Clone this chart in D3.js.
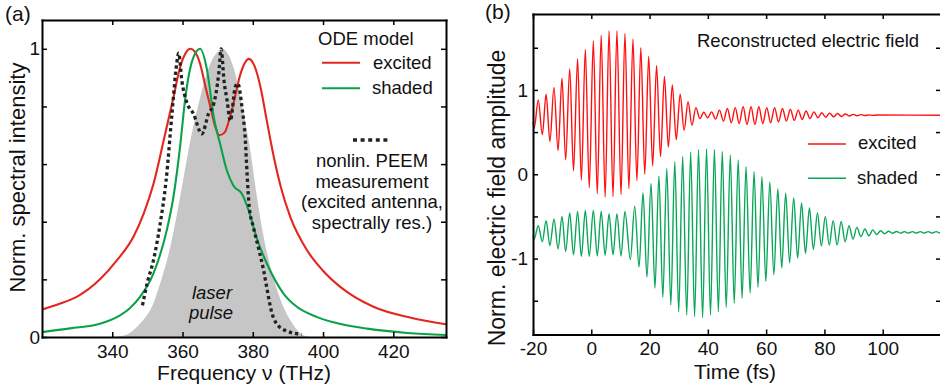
<!DOCTYPE html>
<html>
<head>
<meta charset="utf-8">
<script src="https://cdn.jsdelivr.net/npm/d3@7"></script>
<style>
  body { margin: 0; background: #fff; }
  svg { display: block; font-family: "Liberation Sans", Arial, Helvetica, sans-serif; }
  .axis path, .axis line { stroke: #000; }
  .axis path { stroke-width: 2; stroke-linecap: square; }
  .axis line { stroke-width: 1.5; }
  .axis text { font-family: "Liberation Sans", Arial, Helvetica, sans-serif; font-size: 19px; fill: #111; }
  .lbl { fill: #111; }
</style>
</head>
<body>
<svg width="940" height="392"></svg>
<script>
// ---- panel (a): spectra, [frequency THz, normalised intensity]
const freqTicks = [340, 360, 380, 400, 420];
const specTicks = [0, 0.2, 0.4, 0.6, 0.8, 1];

const odeExcited = [
  [320, 0.095], [325, 0.115], [330, 0.14], [336.5, 0.2], [341.3, 0.266], [346, 0.347],
  [349, 0.43], [351.7, 0.53], [354.6, 0.68], [357.4, 0.83], [359.3, 0.936], [360.8, 0.983],
  [362.2, 1.0], [363.5, 0.99], [365, 0.948], [366.5, 0.87], [367.9, 0.8], [369.3, 0.73],
  [370.5, 0.7], [372, 0.71], [373.2, 0.75], [374.5, 0.81], [376.5, 0.913], [378.9, 0.965],
  [380.5, 0.94], [382.2, 0.867], [384, 0.75], [386, 0.624], [388, 0.52], [390.7, 0.416],
  [395.5, 0.3], [400, 0.23], [405, 0.173], [414.5, 0.104], [425, 0.067], [435, 0.044]
];

const odeShaded = [
  [320, 0.017], [328, 0.03], [336.5, 0.046], [342.2, 0.075], [345, 0.1], [347.9, 0.139],
  [351.7, 0.22], [355.5, 0.37], [357.4, 0.485], [359.3, 0.66], [360.8, 0.83], [362.8, 0.96],
  [365, 1.0], [367, 0.925], [368.9, 0.763], [370.8, 0.665], [372.7, 0.575], [374.5, 0.525],
  [376.9, 0.497], [378.8, 0.44], [381.2, 0.34], [384, 0.255], [388.8, 0.15], [392, 0.11],
  [398.3, 0.069], [405, 0.045], [412.6, 0.029], [424, 0.014], [435, 0.007]
];

const peemMeasured = [
  [348.6, 0.11], [350, 0.19], [351.7, 0.265], [353.6, 0.39], [355.3, 0.54], [357, 0.775],
  [358.3, 0.945], [358.9, 0.985], [359.8, 0.89], [361.2, 0.815], [363.1, 0.775], [365.5, 0.705],
  [367.4, 0.775], [368.9, 0.81], [370.3, 0.913], [371, 1.0], [371.8, 0.89], [372.7, 0.82],
  [373.6, 0.75], [375, 0.867], [375.7, 0.88], [376.9, 0.8], [377.9, 0.68], [378.4, 0.56],
  [379, 0.45], [380.2, 0.38], [381.6, 0.31], [383.1, 0.23], [384, 0.17], [385.4, 0.085],
  [386.8, 0.046], [389.6, 0.021], [393.9, 0.009]
];

const laserPulse = [
  [340.5, 0], [344, 0.008], [347, 0.035], [349.8, 0.075], [350.8, 0.093], [353.6, 0.185],
  [356.5, 0.312], [359.3, 0.485], [362.2, 0.68], [365, 0.83], [367.9, 0.948], [370, 0.99],
  [371.3, 1.0], [372.8, 0.985], [374.5, 0.936], [377.4, 0.775], [379.3, 0.647], [381.2, 0.485],
  [383.1, 0.347], [386, 0.2], [388.5, 0.11], [390.7, 0.058], [393.6, 0.012], [396, 0]
];

// ---- panel (b): reconstructed field, extrema [time fs, amplitude]
const timeTicks = [-20, 0, 20, 40, 60, 80, 100];
const fieldTicks = [-1.5, -1, -0.5, 0, 0.5, 1, 1.5];

const fieldExcited = [
  [-20, 0.62], [-19.6, 0.545], [-18.2, 0.88], [-16.8, 0.47], [-15.5, 0.95], [-14.2, 0.39],
  [-12.8, 1.03], [-11.4, 0.28], [-10.05, 1.14], [-8.8, 0.17], [-7.4, 1.25], [-6.1, 0.04],
  [-4.7, 1.37], [-3.4, -0.07], [-2.05, 1.48], [-0.7, -0.16], [0.7, 1.58], [2.05, -0.23],
  [3.4, 1.65], [4.75, -0.27], [6.1, 1.7], [7.45, -0.265], [8.8, 1.7], [10.2, -0.24],
  [11.55, 1.67], [12.9, -0.17], [14.3, 1.6], [15.65, -0.075], [17, 1.5], [18.35, 0.0],
  [19.7, 1.4], [21.05, 0.1], [22.4, 1.29], [23.75, 0.21], [25.1, 1.16], [26.45, 0.32],
  [27.8, 1.06], [29.15, 0.41], [30.5, 0.95], [31.85, 0.52], [33.2, 0.86], [34.55, 0.58],
  [35.9, 0.79], [37.25, 0.66], [38.6, 0.735], [39.95, 0.67], [41.3, 0.74], [42.65, 0.655],
  [44, 0.76], [45.35, 0.63], [46.7, 0.78], [48.05, 0.61], [49.4, 0.79], [50.75, 0.6],
  [52.1, 0.8], [53.45, 0.59], [54.8, 0.8], [56.15, 0.59], [57.5, 0.8], [58.85, 0.6],
  [60.2, 0.79], [61.55, 0.61], [62.9, 0.79], [64.25, 0.62], [65.6, 0.78], [66.95, 0.63],
  [68.3, 0.77], [69.65, 0.64], [71, 0.76], [72.35, 0.65], [73.7, 0.75], [75.05, 0.66],
  [76.4, 0.74], [77.75, 0.67], [79.1, 0.73], [80.45, 0.675], [81.8, 0.725], [83.15, 0.68],
  [84.5, 0.72], [85.85, 0.685], [87.2, 0.715], [88.55, 0.69], [89.9, 0.71], [91.25, 0.693],
  [92.6, 0.707], [93.95, 0.696], [95.3, 0.704], [96.65, 0.698], [98, 0.702], [120, 0.7]
];

const fieldShaded = [
  [-20, -0.73], [-19.6, -0.77], [-18.2, -0.61], [-16.8, -0.8], [-15.5, -0.55], [-14.2, -0.845],
  [-12.8, -0.53], [-11.4, -0.885], [-10.05, -0.5], [-8.8, -0.915], [-7.4, -0.46], [-6.1, -0.955],
  [-4.7, -0.44], [-3.4, -0.975], [-2.05, -0.43], [-0.7, -0.975], [0.7, -0.43], [2.05, -0.97],
  [3.4, -0.44], [4.75, -0.96], [6.1, -0.47], [7.45, -0.955], [8.8, -0.47], [10.2, -0.97],
  [11.55, -0.44], [13.4, -1.01], [14.9, -0.38], [16.4, -1.1], [17.75, -0.22], [19.1, -1.22],
  [20.5, -0.11], [21.85, -1.35], [23.2, -0.02], [24.55, -1.46], [25.9, 0.07], [27.3, -1.55],
  [28.65, 0.15], [30, -1.63], [31.35, 0.21], [32.75, -1.67], [34.1, 0.26], [35.45, -1.69],
  [36.8, 0.29], [38.2, -1.7], [39.55, 0.3], [40.9, -1.67], [42.25, 0.29], [43.6, -1.63],
  [44.95, 0.27], [46.3, -1.58], [47.7, 0.23], [49.05, -1.53], [50.4, 0.17], [51.75, -1.47],
  [53.1, 0.09], [54.5, -1.41], [55.85, 0.03], [57.2, -1.34], [58.55, -0.03], [59.9, -1.27],
  [61.25, -0.09], [62.65, -1.19], [64, -0.17], [65.35, -1.11], [66.7, -0.225], [68.05, -1.05],
  [69.45, -0.28], [70.8, -0.995], [72.15, -0.34], [73.5, -0.94], [74.85, -0.4], [76.2, -0.89],
  [77.6, -0.46], [78.95, -0.85], [80.3, -0.5], [81.65, -0.84], [83, -0.55], [84.35, -0.84],
  [85.75, -0.56], [87.1, -0.8], [88.45, -0.61], [89.8, -0.77], [91.15, -0.63], [92.5, -0.74],
  [93.9, -0.65], [95.25, -0.73], [96.6, -0.66], [97.95, -0.715], [99.3, -0.67], [100.65, -0.705],
  [102.05, -0.675], [103.4, -0.7], [104.75, -0.678], [106.1, -0.698], [107.45, -0.68], [108.8, -0.697],
  [110.2, -0.68], [111.55, -0.697], [112.9, -0.68], [114.25, -0.697], [115.6, -0.68], [116.95, -0.697],
  [118.35, -0.68], [119.7, -0.696], [120, -0.694]
];

const svg = d3.select("svg");

// frame with inward ticks on all four sides
function frame(g, x, y, xt, yt, xfmt, yfmt, yPad) {
  const [x0, x1] = x.range(), [y0, y1] = y.range();
  g.append("g").attr("class", "axis").attr("transform", `translate(0,${y0})`)
    .call(d3.axisBottom(x).tickValues(xt).tickSizeInner(-5).tickSizeOuter(0).tickPadding(7.5).tickFormat(xfmt));
  g.append("g").attr("class", "axis").attr("transform", `translate(0,${y1})`)
    .call(d3.axisTop(x).tickValues(xt).tickSizeInner(-5).tickSizeOuter(0).tickFormat(""));
  g.append("g").attr("class", "axis").attr("transform", `translate(${x0},0)`)
    .call(d3.axisLeft(y).tickValues(yt).tickSizeInner(-5).tickSizeOuter(0).tickPadding(yPad).tickFormat(yfmt));
  g.append("g").attr("class", "axis").attr("transform", `translate(${x1},0)`)
    .call(d3.axisRight(y).tickValues(yt).tickSizeInner(-5).tickSizeOuter(0).tickFormat(""));
}

// ================= panel (a)
const xA = d3.scaleLinear().domain([320, 435]).range([42, 446]);
const yA = d3.scaleLinear().domain([0, 1.1]).range([337, 20]);
const gA = svg.append("g");

const lineA = d3.line().x(d => xA(d[0])).y(d => yA(d[1])).curve(d3.curveMonotoneX);

gA.append("path").datum(laserPulse)
  .attr("fill", "#c6c6c6")
  .attr("d", d3.area().x(d => xA(d[0])).y0(yA(0)).y1(d => yA(d[1])).curve(d3.curveMonotoneX));

gA.append("text").attr("class", "lbl").attr("x", 212).attr("y", 299)
  .attr("text-anchor", "middle").attr("font-size", 18.5).attr("font-style", "italic").text("laser");
gA.append("text").attr("class", "lbl").attr("x", 211).attr("y", 319)
  .attr("text-anchor", "middle").attr("font-size", 18.5).attr("font-style", "italic").text("pulse");

gA.append("path").datum(odeExcited).attr("fill", "none")
  .attr("stroke", "#e3261e").attr("stroke-width", 2.1).attr("d", lineA);
gA.append("path").datum(odeShaded).attr("fill", "none")
  .attr("stroke", "#0ca04b").attr("stroke-width", 2.1).attr("d", lineA);
gA.append("path").datum(peemMeasured).attr("fill", "none")
  .attr("stroke", "#222").attr("stroke-width", 3.3).attr("stroke-dasharray", "3.3,3")
  .attr("d", lineA);

frame(gA, xA, yA, freqTicks, specTicks, d => d,
  d => (d === 0 || d === 1) ? d : "", 2);

// legend (a)
gA.append("text").attr("class", "lbl").attr("x", 318).attr("y", 45).attr("font-size", 18.5).text("ODE model");
gA.append("line").attr("x1", 322).attr("x2", 360).attr("y1", 62.7).attr("y2", 62.7)
  .attr("stroke", "#e3261e").attr("stroke-width", 2.1);
gA.append("text").attr("class", "lbl").attr("x", 373).attr("y", 68.5).attr("font-size", 18.5).text("excited");
gA.append("line").attr("x1", 322).attr("x2", 360).attr("y1", 88.3).attr("y2", 88.3)
  .attr("stroke", "#0ca04b").attr("stroke-width", 2.1);
gA.append("text").attr("class", "lbl").attr("x", 372).attr("y", 94).attr("font-size", 18.5).text("shaded");
gA.append("line").attr("x1", 353).attr("x2", 389).attr("y1", 140).attr("y2", 140)
  .attr("stroke", "#222").attr("stroke-width", 3.6).attr("stroke-dasharray", "4,3.6");
["nonlin. PEEM", "measurement", "(excited antenna,", "spectrally res.)"].forEach((t, i) => {
  gA.append("text").attr("class", "lbl").attr("x", 372).attr("y", 167 + i * 20.5)
    .attr("text-anchor", "middle").attr("font-size", 18.5).text(t);
});

gA.append("text").attr("class", "lbl").attr("x", 244).attr("y", 380)
  .attr("text-anchor", "middle").attr("font-size", 21).text("Frequency \u03bd (THz)");
gA.append("text").attr("class", "lbl").attr("transform", "translate(25,177.5) rotate(-90)")
  .attr("text-anchor", "middle").attr("font-size", 22).text("Norm. spectral intensity");
gA.append("text").attr("class", "lbl").attr("x", 5).attr("y", 20.5).attr("font-size", 21).text("(a)");

// ================= panel (b)
const xB = d3.scaleLinear().domain([-20, 120]).range([533, 941]);
const yB = d3.scaleLinear().domain([-1.9, 1.9]).range([334.5, 14]);
const gB = svg.append("g");

const lineB = d3.line().x(d => xB(d[0])).y(d => yB(d[1])).curve(d3.curveMonotoneX);

gB.append("path").datum(fieldExcited).attr("fill", "none")
  .attr("stroke", "#ff1010").attr("stroke-width", 1.4).attr("d", lineB);
gB.append("path").datum(fieldShaded).attr("fill", "none")
  .attr("stroke", "#0aa65a").attr("stroke-width", 1.4).attr("d", lineB);

frame(gB, xB, yB, timeTicks, fieldTicks, d => String(d),
  d => Number.isInteger(d) ? String(d) : "", 5);

gB.append("text").attr("class", "lbl").attr("x", 697).attr("y", 47).attr("font-size", 18.5)
  .text("Reconstructed electric field");
gB.append("line").attr("x1", 808).attr("x2", 846).attr("y1", 144).attr("y2", 144)
  .attr("stroke", "#ff1010").attr("stroke-width", 1.6);
gB.append("text").attr("class", "lbl").attr("x", 858).attr("y", 149).attr("font-size", 18.5).text("excited");
gB.append("line").attr("x1", 808).attr("x2", 846).attr("y1", 178.3).attr("y2", 178.3)
  .attr("stroke", "#0aa65a").attr("stroke-width", 1.6);
gB.append("text").attr("class", "lbl").attr("x", 857).attr("y", 183.5).attr("font-size", 18.5).text("shaded");

gB.append("text").attr("class", "lbl").attr("x", 735).attr("y", 379)
  .attr("text-anchor", "middle").attr("font-size", 21).text("Time (fs)");
gB.append("text").attr("class", "lbl").attr("transform", "translate(505,198) rotate(-90)")
  .attr("text-anchor", "middle").attr("font-size", 23).text("Norm. electric field amplitude");
gB.append("text").attr("class", "lbl").attr("x", 485).attr("y", 18.5).attr("font-size", 21).text("(b)");
</script>
</body>
</html>
